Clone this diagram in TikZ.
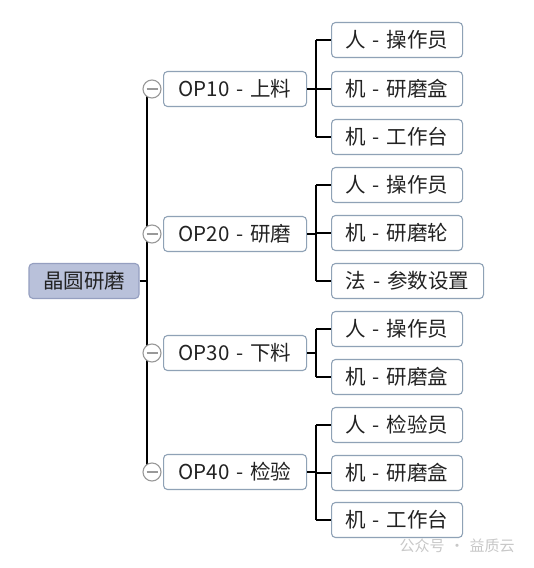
\documentclass[tikz,border=0pt]{standalone}
\usepackage{fontspec}
\setmainfont[WordSpace={1.5}]{Noto Sans CJK SC}
\definecolor{boxline}{HTML}{8FA2B6}
\definecolor{rootfill}{HTML}{B9C1DA}
\definecolor{rootline}{HTML}{959FC0}
\definecolor{txt}{HTML}{222222}
\definecolor{wm}{HTML}{C8C8C8}
\begin{document}
\begin{tikzpicture}[x=1pt,y=-1pt,
  base/.style={rounded corners=4pt, line width=1.1pt, minimum height=35pt, inner sep=0pt, font=\fontsize{20.5}{22}\selectfont, text=txt},
  rootbox/.style={base, draw=rootline, fill=rootfill, minimum width=110pt},
  opbox/.style={base, draw=boxline, fill=white, minimum width=143pt, anchor=west},
  leafbox/.style={base, draw=boxline, fill=white, minimum width=131pt, anchor=west},
  wideleaf/.style={leafbox, minimum width=152pt},
  conn/.style={line width=1.3pt, draw=black},
  knob/.style={circle, draw=gray!80, fill=white, line width=1.1pt, minimum size=18pt, inner sep=0pt}
]
\useasboundingbox[fill=white] (0,0) rectangle (534,568);
% root
\node[rootbox] (root) at (84,281) {晶圆研磨};
% trunk coordinates
\coordinate (t1) at (147,89);
\coordinate (t4) at (147,472);
\coordinate (tr) at (147,281);
\draw[conn] (t1) -- (t4);
\draw[conn] (root.east) -- (tr);
% OP nodes
\node[opbox] (op1) at (163,89) {OP10 - 上料};
\node[opbox] (op2) at (163,234) {OP20 - 研磨};
\node[opbox] (op3) at (163,353) {OP30 - 下料};
\node[opbox] (op4) at (163,472) {OP40 - 检验};
% leaves
\node[leafbox] (a1) at (331,40) {人 - 操作员};
\node[leafbox] (a2) at (331,89) {机 - 研磨盒};
\node[leafbox] (a3) at (331,137) {机 - 工作台};
\node[leafbox] (b1) at (331,185) {人 - 操作员};
\node[leafbox] (b2) at (331,233) {机 - 研磨轮};
\node[wideleaf] (b3) at (331,281) {法 - 参数设置};
\node[leafbox] (c1) at (331,329) {人 - 操作员};
\node[leafbox] (c2) at (331,377) {机 - 研磨盒};
\node[leafbox] (d1) at (331,425) {人 - 检验员};
\node[leafbox] (d2) at (331,473) {机 - 研磨盒};
\node[leafbox] (d3) at (331,520) {机 - 工作台};
% branches
\foreach \op/\top/\bot/\list in {op1/a1/a3/{a1,a2,a3}, op2/b1/b3/{b1,b2,b3}, op3/c1/c2/{c1,c2}, op4/d1/d3/{d1,d2,d3}}{
  \draw[conn] (\op.east) -- (\op.east -| 316,0);
  \draw[conn] (\top.west -| 316,0) -- (\bot.west -| 316,0);
  \foreach \l in \list { \draw[conn] (\l.west -| 316,0) -- (\l.west); }
}
% knobs
\foreach \op in {op1,op2,op3,op4}{
  \node[knob] (k\op) at (\op.west -| 152,0) {};
  \draw[line width=1.1pt, gray!80] ([xshift=-5.5pt]k\op.center) -- ([xshift=5.5pt]k\op.center);
}
% watermark
\node[text=wm, font=\fontsize{15}{16}\selectfont, anchor=west] (wmk) at (396,546) {公众号 · 益质云};
\end{tikzpicture}
\end{document}
